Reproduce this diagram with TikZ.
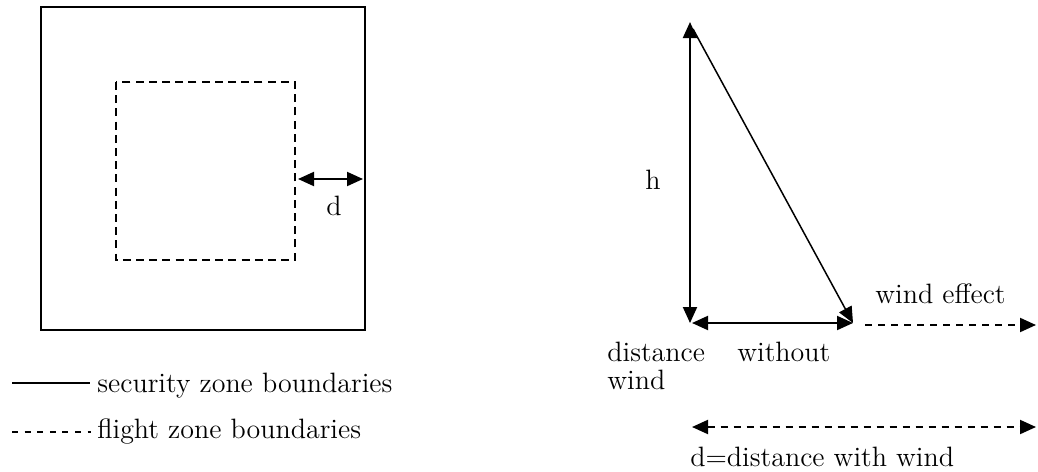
\documentclass[tikz,border=0pt]{standalone}
\usepackage{tikz}
\usetikzlibrary{arrows.meta, positioning}
\tikzstyle{arrow} = [line width=1pt, {Triangle[length=8pt,width=7pt]}-{Triangle[length=8pt,width=7pt]}]
\tikzstyle{line} = [line width=1pt,-]

\begin{document}
\begin{tikzpicture}[
    x=0.5pt, y=-0.5pt,
    every node/.style={inner sep=0pt, font=\fontsize{14}{16.5}\selectfont},
    zone/.style={line width=1pt},
    flightzone/.style={line width=1pt, dash pattern=on 4pt off 2.6pt},
    legenddash/.style={line width=0.8pt, dash pattern=on 3pt off 3.3pt},
    windline/.style={line width=1pt, dash pattern=on 3.5pt off 3pt},
    tip/.style={-{Triangle[length=8pt,width=7pt]}},
    label/.style={anchor=base west}
]
    \useasboundingbox (0,0) rectangle (1038,471);

    % zones
    \draw[zone] (41,7) rectangle (365,330);
    \draw[flightzone] (116,82) rectangle (295,260);
    \coordinate (din) at (298,179);
    \coordinate (dout) at (363,179);
    \draw[arrow] (din) -- (dout);
    \node[anchor=base] (dlbl) at (334,215) {d};

    % legend
    \coordinate (solidstart) at (12,383);
    \coordinate (dashstart) at (12,432);
    \node[label] (security) at (97,392) {security zone boundaries};
    \node[label] (flight) at (97,438) {flight zone boundaries};
    \draw[line] (solidstart) -- ([xshift=-3.5pt]solidstart -| security.west);
    \draw[legenddash] (dashstart) -- ([xshift=-3pt]dashstart -| flight.west);

    % wind triangle
    \coordinate (top) at (690,22);
    \coordinate (foot) at (690,323);
    \coordinate (land) at (853,323);
    \coordinate (slant) at (693,29);
    \coordinate (windend) at (1036,325);
    \coordinate (dleft) at (692,427);
    \coordinate (dright) at (1036,427);
    \draw[arrow] (foot) -- (top);
    \draw[arrow] ([xshift=1pt]foot) -- (land);
    \draw[line width=0.75pt, tip] (slant) -- (land);
    \draw[windline, tip] (865,325) -- (windend);
    \draw[windline, arrow] (dleft) -- (dright);

    \node[anchor=base] (hlbl) at (653,189) {h};
    \node[label] (wind) at (875,303) {wind effect};
    \node[label] (dist) at (607,361) {distance};
    \node[label] (without) at (737,361) {without};
    \node[label, below=4pt of dist.south west, anchor=north west] (windw) {wind};
    \node[label] (dwind) at (690,466) {d=distance with wind};
\end{tikzpicture}
\end{document}
